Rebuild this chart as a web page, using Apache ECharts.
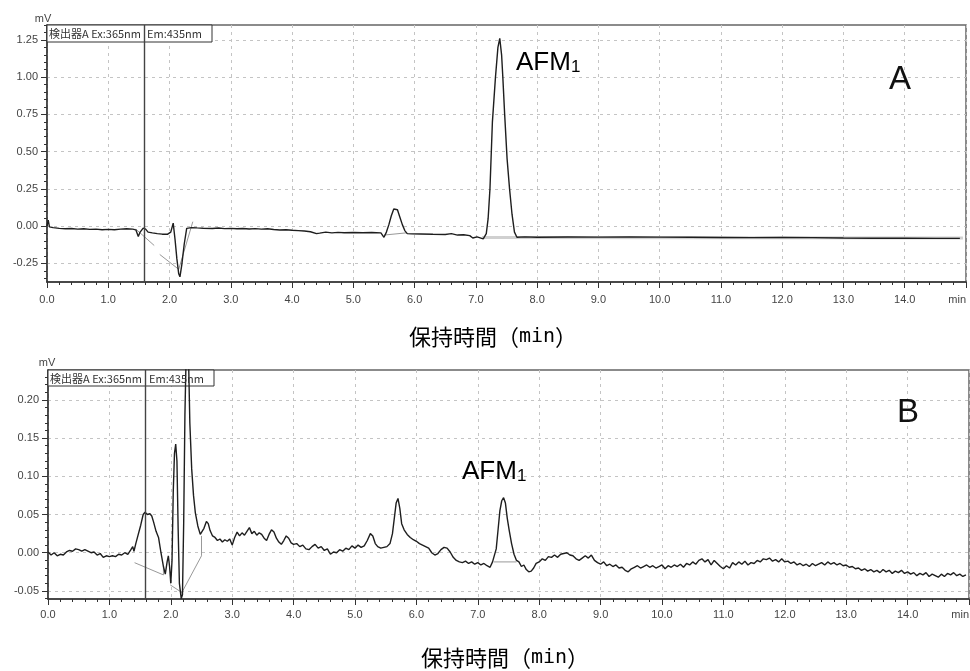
<!DOCTYPE html>
<html>
<head>
<meta charset="utf-8">
<title>AFM1 chromatogram</title>
<script src="https://cdn.jsdelivr.net/npm/echarts@6/dist/echarts.min.js"></script>
<style>
  html, body { margin: 0; padding: 0; background: #fff; }
  #chart { width: 970px; height: 671px; }
</style>
</head>
<body>
<div id="chart"></div>
<script>
// A : standard, [time (min), signal (mV)]
var traceA = [
  [0.00, 0.000], [0.02, 0.040], [0.04, -0.005], [0.10, -0.010], [0.20, -0.015], [0.30, -0.018],
  [0.40, -0.016], [0.50, -0.020], [0.60, -0.018], [0.70, -0.022], [0.80, -0.020], [0.90, -0.024],
  [1.00, -0.022], [1.10, -0.024], [1.20, -0.020], [1.30, -0.018], [1.40, -0.020], [1.45, -0.025],
  [1.49, -0.070], [1.52, -0.040], [1.57, -0.013], [1.61, -0.020], [1.65, -0.040], [1.72, -0.045],
  [1.80, -0.050], [1.88, -0.054], [1.97, -0.054], [2.02, -0.040], [2.06, 0.020], [2.09, -0.090],
  [2.12, -0.220], [2.15, -0.320], [2.17, -0.340], [2.20, -0.260], [2.24, -0.120], [2.28, -0.015],
  [2.36, -0.010], [2.45, -0.012], [2.55, -0.014], [2.70, -0.016], [2.80, -0.013], [2.90, -0.017],
  [3.00, -0.015], [3.10, -0.018], [3.20, -0.016], [3.30, -0.019], [3.40, -0.017], [3.50, -0.020],
  [3.60, -0.018], [3.70, -0.023], [3.80, -0.026], [3.90, -0.024], [4.00, -0.028], [4.10, -0.030],
  [4.20, -0.033], [4.30, -0.038], [4.40, -0.050], [4.45, -0.047], [4.55, -0.040], [4.65, -0.045],
  [4.75, -0.042], [4.85, -0.044], [5.00, -0.043], [5.15, -0.044], [5.30, -0.043], [5.45, -0.045],
  [5.50, -0.075], [5.54, -0.040], [5.58, 0.010], [5.62, 0.070], [5.66, 0.115], [5.69, 0.128],
  [5.72, 0.110], [5.76, 0.060], [5.80, 0.010], [5.84, -0.030], [5.88, -0.050], [5.95, -0.052],
  [6.10, -0.053], [6.30, -0.055], [6.50, -0.056], [6.60, -0.050], [6.70, -0.060], [6.80, -0.058],
  [6.90, -0.064], [6.95, -0.080], [7.02, -0.072], [7.12, -0.085], [7.17, -0.050], [7.20, 0.050],
  [7.23, 0.250], [7.27, 0.700], [7.32, 1.000], [7.36, 1.200], [7.39, 1.260], [7.42, 1.150],
  [7.44, 1.000], [7.47, 0.750], [7.51, 0.450], [7.55, 0.250], [7.59, 0.080], [7.63, -0.040],
  [7.67, -0.075], [7.80, -0.072], [8.00, -0.075], [8.50, -0.073], [9.00, -0.074], [9.50, -0.072],
  [10.00, -0.074], [10.50, -0.075], [11.00, -0.076], [11.50, -0.077], [12.00, -0.076], [12.50, -0.077],
  [13.00, -0.080], [13.50, -0.081], [14.00, -0.081], [14.50, -0.082], [14.90, -0.082]
];

// integration baselines drawn by the data system (A)
var baselinesA = [
  [[1.45, -0.020], [1.75, -0.130]],
  [[1.84, -0.190], [2.15, -0.290]],
  [[2.15, -0.290], [2.38, 0.030]],
  [[5.50, -0.060], [5.87, -0.045]]
];
var floorA = [[7.10, -0.076], [14.95, -0.079]];

// B : sample, [time (min), signal (mV)]
var traceB = [
  [0.00, 0.001], [0.05, -0.003], [0.10, 0.000], [0.15, -0.004], [0.20, -0.002], [0.25, -0.003],
  [0.30, 0.001], [0.35, 0.003], [0.40, 0.002], [0.45, 0.005], [0.50, 0.004], [0.55, 0.002],
  [0.60, 0.004], [0.65, 0.002], [0.70, 0.000], [0.75, 0.001], [0.80, -0.003], [0.85, -0.001],
  [0.90, -0.006], [0.95, -0.004], [1.00, -0.005], [1.05, -0.004], [1.10, -0.005], [1.15, -0.002],
  [1.20, -0.003], [1.25, 0.000], [1.30, -0.002], [1.35, 0.004], [1.38, 0.008], [1.40, 0.002],
  [1.43, 0.012], [1.47, 0.024], [1.51, 0.036], [1.55, 0.050], [1.58, 0.053], [1.62, 0.050],
  [1.66, 0.051], [1.69, 0.048], [1.72, 0.040], [1.76, 0.028], [1.80, 0.020], [1.84, 0.000],
  [1.88, -0.018], [1.91, -0.028], [1.94, -0.012], [1.96, -0.004], [1.98, -0.018], [2.00, -0.040],
  [2.02, -0.010], [2.04, 0.080], [2.06, 0.130], [2.08, 0.142], [2.10, 0.120], [2.12, 0.030],
  [2.14, -0.040], [2.17, -0.060], [2.19, -0.055], [2.21, 0.040], [2.23, 0.180], [2.25, 0.260],
  [2.27, 0.300], [2.29, 0.250], [2.31, 0.170], [2.34, 0.110], [2.37, 0.075], [2.40, 0.052],
  [2.44, 0.035], [2.48, 0.024], [2.51, 0.022], [2.54, 0.032], [2.58, 0.041], [2.61, 0.038],
  [2.64, 0.029], [2.68, 0.022], [2.72, 0.020], [2.76, 0.016], [2.80, 0.018], [2.84, 0.014],
  [2.88, 0.017], [2.92, 0.015], [2.96, 0.018], [3.00, 0.010], [3.04, 0.020], [3.08, 0.027],
  [3.12, 0.022], [3.16, 0.026], [3.20, 0.023], [3.24, 0.028], [3.28, 0.033], [3.32, 0.025],
  [3.36, 0.028], [3.40, 0.023], [3.44, 0.026], [3.48, 0.024], [3.52, 0.019], [3.56, 0.016],
  [3.60, 0.024], [3.64, 0.030], [3.68, 0.027], [3.72, 0.019], [3.76, 0.014], [3.80, 0.011],
  [3.84, 0.016], [3.88, 0.022], [3.92, 0.019], [3.96, 0.013], [4.00, 0.011], [4.05, 0.012],
  [4.10, 0.008], [4.15, 0.010], [4.20, 0.005], [4.25, 0.004], [4.30, 0.008], [4.35, 0.011],
  [4.40, 0.006], [4.45, 0.008], [4.50, 0.003], [4.55, 0.005], [4.60, -0.002], [4.65, 0.001],
  [4.70, 0.000], [4.75, 0.004], [4.80, 0.002], [4.85, 0.006], [4.90, 0.004], [4.95, 0.009],
  [5.00, 0.006], [5.05, 0.010], [5.10, 0.007], [5.15, 0.009], [5.20, 0.016], [5.25, 0.025],
  [5.29, 0.022], [5.33, 0.012], [5.37, 0.008], [5.42, 0.006], [5.47, 0.007], [5.52, 0.008],
  [5.57, 0.012], [5.61, 0.025], [5.64, 0.045], [5.67, 0.065], [5.70, 0.071], [5.73, 0.058],
  [5.76, 0.038], [5.80, 0.030], [5.85, 0.024], [5.90, 0.020], [5.95, 0.017], [6.00, 0.015],
  [6.05, 0.012], [6.10, 0.010], [6.15, 0.008], [6.20, 0.006], [6.25, 0.000], [6.30, -0.003],
  [6.35, -0.001], [6.40, 0.004], [6.45, 0.007], [6.50, 0.006], [6.55, 0.001], [6.60, -0.006],
  [6.65, -0.010], [6.70, -0.012], [6.75, -0.013], [6.80, -0.011], [6.85, -0.014], [6.90, -0.012],
  [6.95, -0.015], [7.00, -0.013], [7.05, -0.016], [7.10, -0.014], [7.15, -0.017], [7.20, -0.019],
  [7.24, -0.012], [7.27, -0.010], [7.30, 0.005], [7.33, 0.030], [7.36, 0.055], [7.39, 0.068],
  [7.42, 0.072], [7.45, 0.065], [7.48, 0.045], [7.51, 0.030], [7.55, 0.012], [7.59, -0.002],
  [7.63, -0.010], [7.67, -0.012], [7.71, -0.018], [7.75, -0.016], [7.79, -0.022], [7.83, -0.025],
  [7.87, -0.024], [7.91, -0.020], [7.95, -0.014], [8.00, -0.012], [8.05, -0.008], [8.10, -0.010],
  [8.15, -0.005], [8.20, -0.006], [8.25, -0.003], [8.30, -0.006], [8.35, -0.002], [8.40, -0.001],
  [8.45, 0.000], [8.50, -0.003], [8.55, -0.004], [8.60, -0.008], [8.65, -0.010], [8.70, -0.007],
  [8.75, -0.004], [8.80, -0.007], [8.85, -0.003], [8.90, -0.010], [8.95, -0.013], [9.00, -0.015],
  [9.05, -0.012], [9.10, -0.017], [9.15, -0.015], [9.20, -0.018], [9.25, -0.016], [9.30, -0.020],
  [9.35, -0.019], [9.40, -0.023], [9.45, -0.025], [9.50, -0.021], [9.55, -0.019], [9.60, -0.017],
  [9.65, -0.020], [9.70, -0.018], [9.75, -0.016], [9.80, -0.019], [9.85, -0.017], [9.90, -0.020],
  [9.95, -0.018], [10.00, -0.016], [10.05, -0.021], [10.10, -0.017], [10.15, -0.019], [10.20, -0.016],
  [10.25, -0.018], [10.30, -0.015], [10.35, -0.019], [10.40, -0.014], [10.45, -0.016], [10.50, -0.012],
  [10.55, -0.015], [10.60, -0.010], [10.65, -0.008], [10.70, -0.012], [10.75, -0.009], [10.80, -0.016],
  [10.85, -0.010], [10.90, -0.014], [10.95, -0.018], [11.00, -0.021], [11.05, -0.017], [11.10, -0.020],
  [11.15, -0.013], [11.20, -0.016], [11.25, -0.012], [11.30, -0.015], [11.35, -0.011], [11.40, -0.016],
  [11.45, -0.013], [11.50, -0.014], [11.55, -0.010], [11.60, -0.012], [11.65, -0.008], [11.70, -0.009],
  [11.75, -0.007], [11.80, -0.011], [11.85, -0.009], [11.90, -0.012], [11.95, -0.008], [12.00, -0.012],
  [12.05, -0.011], [12.10, -0.014], [12.15, -0.012], [12.20, -0.016], [12.25, -0.014], [12.30, -0.017],
  [12.35, -0.015], [12.40, -0.018], [12.45, -0.014], [12.50, -0.017], [12.55, -0.015], [12.60, -0.013],
  [12.65, -0.016], [12.70, -0.012], [12.75, -0.015], [12.80, -0.013], [12.85, -0.016], [12.90, -0.014],
  [12.95, -0.017], [13.00, -0.016], [13.05, -0.019], [13.10, -0.018], [13.15, -0.021], [13.20, -0.020],
  [13.25, -0.023], [13.30, -0.021], [13.35, -0.024], [13.40, -0.022], [13.45, -0.025], [13.50, -0.023],
  [13.55, -0.026], [13.60, -0.022], [13.65, -0.025], [13.70, -0.023], [13.75, -0.027], [13.80, -0.024],
  [13.85, -0.026], [13.90, -0.023], [13.95, -0.027], [14.00, -0.025], [14.05, -0.028], [14.10, -0.026],
  [14.15, -0.030], [14.20, -0.027], [14.25, -0.029], [14.30, -0.026], [14.35, -0.031], [14.40, -0.028],
  [14.45, -0.030], [14.50, -0.032], [14.55, -0.028], [14.60, -0.031], [14.65, -0.027], [14.70, -0.029],
  [14.75, -0.026], [14.80, -0.030], [14.85, -0.028], [14.90, -0.031], [14.95, -0.029]
];

var baselinesB = [
  [[1.41, -0.013], [1.88, -0.029]],
  [[1.88, -0.029], [1.88, -0.018]],
  [[1.99, -0.042], [2.18, -0.052]],
  [[2.18, -0.052], [2.50, -0.004]],
  [[2.50, -0.004], [2.50, 0.022]],
  [[7.26, -0.012], [7.63, -0.012]]
];

// vertical event line (min)
var markerA = 1.58;
var markerB = 1.59;

// axis ticks
var yTicksA = [-0.25, 0, 0.25, 0.5, 0.75, 1.0, 1.25];
var yMinorA = [-0.35, -0.30, -0.20, -0.15, -0.10, -0.05, 0.05, 0.10, 0.15, 0.20, 0.30, 0.35, 0.40, 0.45,
  0.55, 0.60, 0.65, 0.70, 0.80, 0.85, 0.90, 0.95, 1.05, 1.10, 1.15, 1.20, 1.30, 1.35];
var yTicksB = [-0.05, 0, 0.05, 0.10, 0.15, 0.20];
var yMinorB = [-0.06, -0.04, -0.03, -0.02, -0.01, 0.01, 0.02, 0.03, 0.04, 0.06, 0.07, 0.08, 0.09,
  0.11, 0.12, 0.13, 0.14, 0.16, 0.17, 0.18, 0.19, 0.21, 0.22, 0.23];

var detectorText = ['検出器A Ex:365nm', 'Em:435nm'];
var axisTitle = '{c|保持時間（}{m|min}{c|）}';

function Page() {
  this.init();
}

Page.prototype = {

  init: function () {
    this.chart = echarts.init(document.getElementById('chart'), null, { renderer: 'canvas' });
    this.initChart();
  },

  xAxis: function (gridIndex, margin) {
    return {
      type: 'value', gridIndex: gridIndex, min: 0, max: 15, interval: 1,
      axisLine: { show: true, onZero: false, lineStyle: { color: '#333', width: 1.5 } },
      axisTick: { show: true, length: 6, lineStyle: { color: '#333' } },
      minorTick: { show: true, splitNumber: 5, length: 3, lineStyle: { color: '#333' } },
      axisLabel: {
        margin: margin, fontSize: 11, color: '#444', fontFamily: 'Liberation Sans',
        alignMaxLabel: 'right',
        formatter: function (v) { return v === 15 ? 'min' : v.toFixed(1); }
      },
      splitLine: { show: true, lineStyle: { color: '#c4c4c4', type: [3, 4], width: 1 } }
    };
  },

  yAxes: function (gridIndex, min, max, ticks, minor) {
    return [{
      type: 'value', gridIndex: gridIndex, min: min, max: max, position: 'left',
      axisLine: { show: true, onZero: false, lineStyle: { color: '#333', width: 1.5 } },
      axisTick: { show: true, length: 6, customValues: ticks, lineStyle: { color: '#333' } },
      axisLabel: {
        customValues: ticks, margin: 9, fontSize: 11, color: '#444', fontFamily: 'Liberation Sans',
        formatter: function (v) { return v.toFixed(2); }
      },
      splitLine: { show: true, lineStyle: { color: '#c4c4c4', type: [3, 4], width: 1 } }
    }, {
      type: 'value', gridIndex: gridIndex, min: min, max: max, position: 'left', offset: 0,
      axisLine: { show: false },
      axisTick: { show: true, length: 3, customValues: minor, lineStyle: { color: '#333' } },
      axisLabel: { show: false },
      splitLine: { show: false }
    }];
  },

  segSeries: function (segs, xi, yi) {
    return segs.map(function (s) {
      return {
        type: 'line', xAxisIndex: xi, yAxisIndex: yi, data: s, showSymbol: false, silent: true,
        lineStyle: { color: '#999', width: 1 }, z: 2
      };
    });
  },

  traceSeries: function (data, xi, yi, marker) {
    return {
      type: 'line', xAxisIndex: xi, yAxisIndex: yi, data: data, showSymbol: false,
      sampling: 'none', clip: true, silent: true,
      lineStyle: { color: '#1e1e1e', width: 1.4 }, z: 3,
      markLine: {
        silent: true, symbol: ['none', 'none'], label: { show: false },
        lineStyle: { color: '#444', type: 'solid', width: 1.4 },
        data: [{ xAxis: marker }]
      }
    };
  },

  initChart: function () {
    var cjk = '"Noto Sans CJK JP", sans-serif';
    var titleRich = {
      c: { fontFamily: cjk, fontSize: 22, color: '#111' },
      m: { fontFamily: '"DejaVu Sans Mono", monospace', fontSize: 20, color: '#111' }
    };
    var afmRich = {
      m: { fontFamily: 'Liberation Sans', fontSize: 26, color: '#111' },
      s: { fontFamily: 'Liberation Sans', fontSize: 17, color: '#111', verticalAlign: 'bottom' }
    };

    var series = [];
    series.push({
      type: 'line', xAxisIndex: 0, yAxisIndex: 0, data: floorA, showSymbol: false, silent: true,
      lineStyle: { color: '#d0d0d0', width: 3 }, z: 2
    });
    series = series.concat(this.segSeries(baselinesA, 0, 0));
    series.push(this.traceSeries(traceA, 0, 0, markerA));
    series = series.concat(this.segSeries(baselinesB, 1, 2));
    series.push(this.traceSeries(traceB, 1, 2, markerB));

    var option = {
      animation: false,
      backgroundColor: '#fff',
      grid: [
        { left: 47, top: 25, width: 919, height: 257, show: true, borderColor: '#666', borderWidth: 1.5,
          backgroundColor: 'transparent', containLabel: false, outerBoundsMode: 'none' },
        { left: 48, top: 370, width: 921, height: 229, show: true, borderColor: '#666', borderWidth: 1.5,
          backgroundColor: 'transparent', containLabel: false, outerBoundsMode: 'none' }
      ],
      xAxis: [this.xAxis(0, 12), this.xAxis(1, 10)],
      yAxis: this.yAxes(0, -0.375, 1.35, yTicksA, yMinorA)
        .concat(this.yAxes(1, -0.0605, 0.239, yTicksB, yMinorB)),
      series: series,
      graphic: [
        // detector boxes
        { type: 'rect', z: 1, shape: { x: 47, y: 25, width: 165, height: 17 },
          style: { fill: '#fff', stroke: '#333', lineWidth: 1 } },
        { type: 'text', z: 10, x: 49, y: 34,
          style: { text: detectorText[0], fontFamily: cjk, fontSize: 11, fill: '#333', verticalAlign: 'middle' } },
        { type: 'text', z: 10, x: 147, y: 34,
          style: { text: detectorText[1], fontFamily: cjk, fontSize: 11, fill: '#333', verticalAlign: 'middle' } },
        { type: 'rect', z: 1, shape: { x: 48, y: 370, width: 166, height: 16 },
          style: { fill: '#fff', stroke: '#333', lineWidth: 1 } },
        { type: 'text', z: 10, x: 50, y: 378.5,
          style: { text: detectorText[0], fontFamily: cjk, fontSize: 11, fill: '#333', verticalAlign: 'middle' } },
        { type: 'text', z: 10, x: 149, y: 378.5,
          style: { text: detectorText[1], fontFamily: cjk, fontSize: 11, fill: '#333', verticalAlign: 'middle' } },
        // units
        { type: 'text', x: 43, y: 19,
          style: { text: 'mV', fontFamily: 'Liberation Sans', fontSize: 11, fill: '#444', align: 'center', verticalAlign: 'middle' } },
        { type: 'text', x: 47, y: 363,
          style: { text: 'mV', fontFamily: 'Liberation Sans', fontSize: 11, fill: '#444', align: 'center', verticalAlign: 'middle' } },
        // peak names and panel letters
        { type: 'text', z: 10, x: 516, y: 63,
          style: { text: '{m|AFM}{s|1}', rich: afmRich, verticalAlign: 'middle' } },
        { type: 'text', z: 10, x: 462, y: 472,
          style: { text: '{m|AFM}{s|1}', rich: afmRich, verticalAlign: 'middle' } },
        { type: 'text', z: 10, x: 900, y: 80,
          style: { text: 'A', fontFamily: 'Liberation Sans', fontSize: 33, fill: '#111', align: 'center', verticalAlign: 'middle' } },
        { type: 'text', z: 10, x: 908, y: 413,
          style: { text: 'B', fontFamily: 'Liberation Sans', fontSize: 33, fill: '#111', align: 'center', verticalAlign: 'middle' } },
        // axis titles
        { type: 'text', x: 493, y: 337,
          style: { text: axisTitle, rich: titleRich, align: 'center', verticalAlign: 'middle' } },
        { type: 'text', x: 505, y: 658,
          style: { text: axisTitle, rich: titleRich, align: 'center', verticalAlign: 'middle' } }
      ]
    };

    this.chart.setOption(option);
  }
};

var page = new Page();
</script>
</body>
</html>
